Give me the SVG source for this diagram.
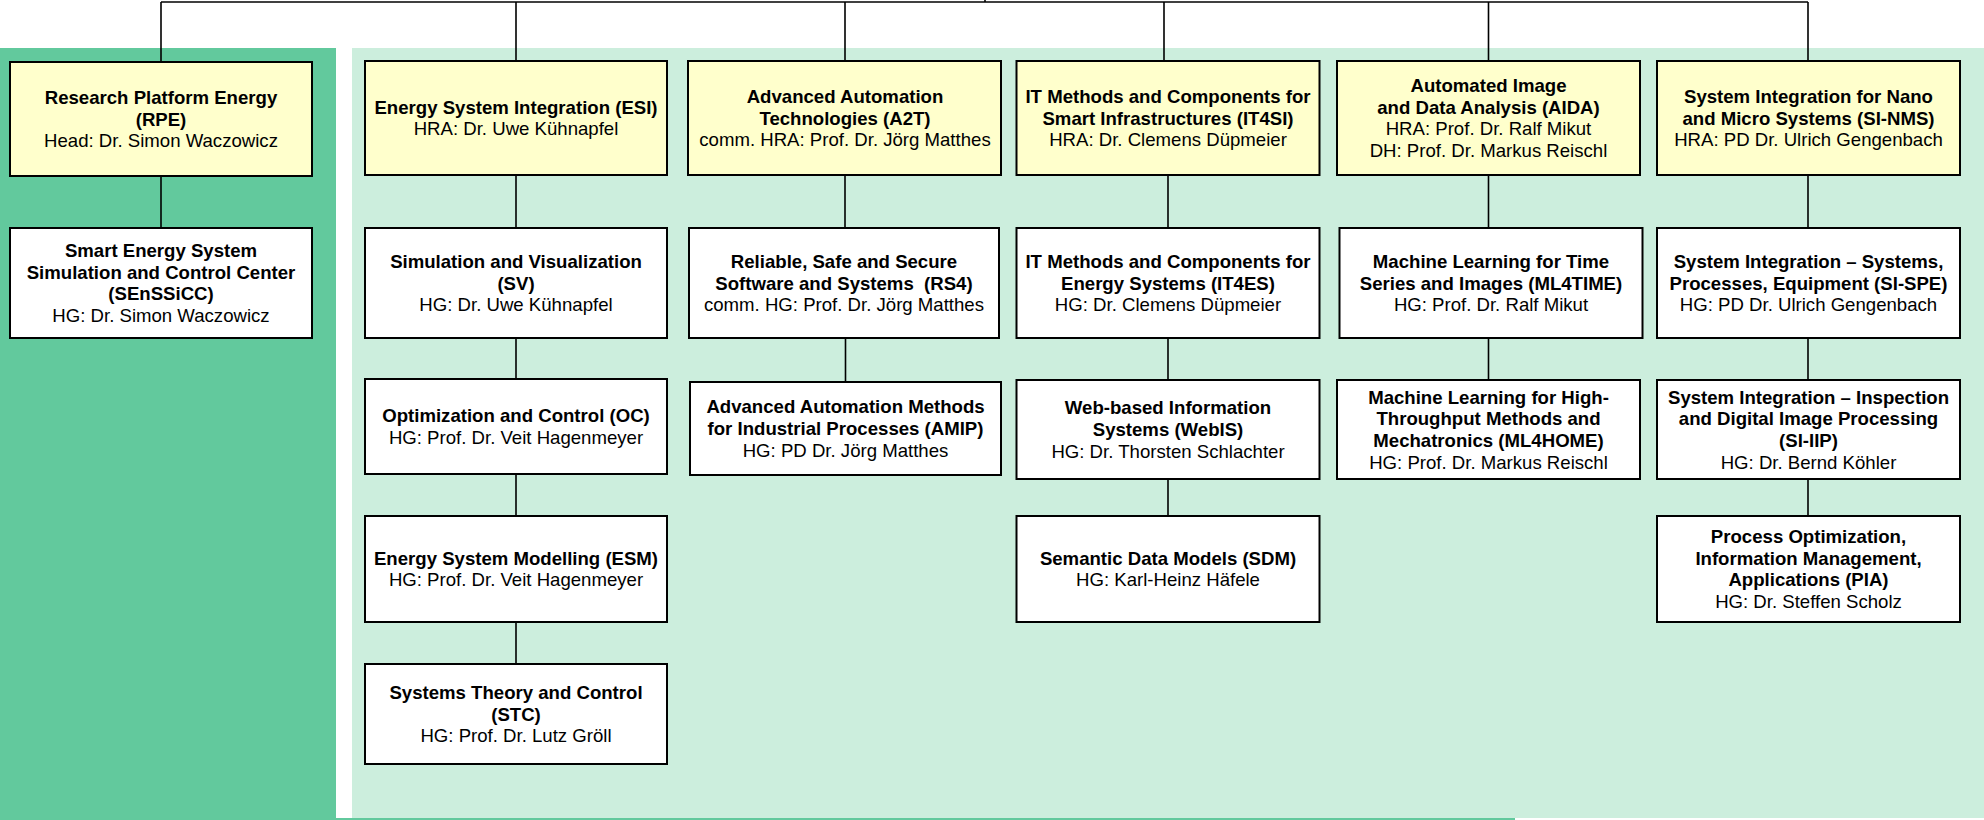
<svg xmlns="http://www.w3.org/2000/svg" width="1984" height="820" viewBox="0 0 1984 820">
<style>
  text { font-family: "Liberation Sans", Arial, sans-serif; font-size: 18.6px; fill: #000; text-anchor: middle; }
  .b { font-weight: bold; }
  .box { stroke: #000; stroke-width: 2; }
  .head { fill: #FFFFCC; }
  .unit { fill: #FFFFFF; }
  .conn { stroke: #000; stroke-width: 1.6; fill: none; }
</style>
<rect x="0" y="0" width="1984" height="820" fill="#FFFFFF"/>
<g id="backgrounds">
  <rect x="0" y="48" width="336" height="772" fill="#62C99D"/>
  <rect x="352" y="48" width="1632" height="770" fill="#CCEEDD"/>
  <rect x="336" y="818" width="1179" height="2" fill="#62C99D"/>
</g>
<g id="connectors">
  <path class="conn" d="M161,2 H1808"/>
  <path class="conn" d="M985,0 V2"/>
  <path class="conn" d="M161,2 V62 M516,2 V61 M845,2 V61 M1164,2 V61 M1488.5,2 V61 M1808,2 V61"/>
  <path class="conn" d="M161,176 V228"/>
  <path class="conn" d="M516,175 V228 M516,338 V379 M516,474 V516 M516,622 V664"/>
  <path class="conn" d="M845,175 V228 M845.5,338 V382"/>
  <path class="conn" d="M1168,175 V228 M1168,338 V380 M1168,479 V516"/>
  <path class="conn" d="M1488.5,175 V228 M1488.5,338 V380"/>
  <path class="conn" d="M1808,175 V228 M1808,338 V380 M1808,479 V516"/>
</g>
<g id="RPE">
  <rect class="box head" x="10" y="62" width="302" height="114"/>
  <text><tspan class="b" x="161" y="103.9">Research Platform Energy</tspan><tspan class="b" x="161" y="125.6">(RPE)</tspan><tspan x="161" y="147.3">Head: Dr. Simon Waczowicz</tspan></text>
</g>
<g id="SEnSSiCC">
  <rect class="box unit" x="10" y="228" width="302" height="110"/>
  <text><tspan class="b" x="161" y="257.05">Smart Energy System</tspan><tspan class="b" x="161" y="278.75">Simulation and Control Center</tspan><tspan class="b" x="161" y="300.45">(SEnSSiCC)</tspan><tspan x="161" y="322.15">HG: Dr. Simon Waczowicz</tspan></text>
</g>
<g id="ESI">
  <rect class="box head" x="365" y="61" width="302" height="114"/>
  <text><tspan class="b" x="516" y="113.75">Energy System Integration (ESI)</tspan><tspan x="516" y="135.45">HRA: Dr. Uwe Kühnapfel</tspan></text>
</g>
<g id="SV">
  <rect class="box unit" x="365" y="228" width="302" height="110"/>
  <text><tspan class="b" x="516" y="267.9">Simulation and Visualization</tspan><tspan class="b" x="516" y="289.6">(SV)</tspan><tspan x="516" y="311.3">HG: Dr. Uwe Kühnapfel</tspan></text>
</g>
<g id="OC">
  <rect class="box unit" x="365" y="379" width="302" height="95"/>
  <text><tspan class="b" x="516" y="422.25">Optimization and Control (OC)</tspan><tspan x="516" y="443.95">HG: Prof. Dr. Veit Hagenmeyer</tspan></text>
</g>
<g id="ESM">
  <rect class="box unit" x="365" y="516" width="302" height="106"/>
  <text><tspan class="b" x="516" y="564.75">Energy System Modelling (ESM)</tspan><tspan x="516" y="586.45">HG: Prof. Dr. Veit Hagenmeyer</tspan></text>
</g>
<g id="STC">
  <rect class="box unit" x="365" y="664" width="302" height="100"/>
  <text><tspan class="b" x="516" y="698.9">Systems Theory and Control</tspan><tspan class="b" x="516" y="720.6">(STC)</tspan><tspan x="516" y="742.3">HG: Prof. Dr. Lutz Gröll</tspan></text>
</g>
<g id="A2T">
  <rect class="box head" x="688" y="61" width="313" height="114"/>
  <text><tspan class="b" x="845" y="102.9">Advanced Automation</tspan><tspan class="b" x="845" y="124.6">Technologies (A2T)</tspan><tspan x="845" y="146.3">comm. HRA: Prof. Dr. Jörg Matthes</tspan></text>
</g>
<g id="RS4">
  <rect class="box unit" x="689" y="228" width="310" height="110"/>
  <text xml:space="preserve"><tspan class="b" x="844" y="267.9">Reliable, Safe and Secure</tspan><tspan class="b" x="844" y="289.6">Software and Systems  (RS4)</tspan><tspan x="844" y="311.3">comm. HG: Prof. Dr. Jörg Matthes</tspan></text>
</g>
<g id="AMIP">
  <rect class="box unit" x="690" y="382" width="311" height="93"/>
  <text><tspan class="b" x="845.5" y="413.4">Advanced Automation Methods</tspan><tspan class="b" x="845.5" y="435.1">for Industrial Processes (AMIP)</tspan><tspan x="845.5" y="456.8">HG: PD Dr. Jörg Matthes</tspan></text>
</g>
<g id="IT4SI">
  <rect class="box head" x="1016.5" y="61" width="303" height="114"/>
  <text><tspan class="b" x="1168" y="102.9">IT Methods and Components for</tspan><tspan class="b" x="1168" y="124.6">Smart Infrastructures (IT4SI)</tspan><tspan x="1168" y="146.3">HRA: Dr. Clemens Düpmeier</tspan></text>
</g>
<g id="IT4ES">
  <rect class="box unit" x="1016.5" y="228" width="303" height="110"/>
  <text><tspan class="b" x="1168" y="267.9">IT Methods and Components for</tspan><tspan class="b" x="1168" y="289.6">Energy Systems (IT4ES)</tspan><tspan x="1168" y="311.3">HG: Dr. Clemens Düpmeier</tspan></text>
</g>
<g id="WebIS">
  <rect class="box unit" x="1016.5" y="380" width="303" height="99"/>
  <text><tspan class="b" x="1168" y="414.4">Web-based Information</tspan><tspan class="b" x="1168" y="436.1">Systems (WebIS)</tspan><tspan x="1168" y="457.8">HG: Dr. Thorsten Schlachter</tspan></text>
</g>
<g id="SDM">
  <rect class="box unit" x="1016.5" y="516" width="303" height="106"/>
  <text><tspan class="b" x="1168" y="564.75">Semantic Data Models (SDM)</tspan><tspan x="1168" y="586.45">HG: Karl-Heinz Häfele</tspan></text>
</g>
<g id="AIDA">
  <rect class="box head" x="1337" y="61" width="303" height="114"/>
  <text><tspan class="b" x="1488.5" y="92.05">Automated Image</tspan><tspan class="b" x="1488.5" y="113.75">and Data Analysis (AIDA)</tspan><tspan x="1488.5" y="135.45">HRA: Prof. Dr. Ralf Mikut</tspan><tspan x="1488.5" y="157.15">DH: Prof. Dr. Markus Reischl</tspan></text>
</g>
<g id="ML4TIME">
  <rect class="box unit" x="1339.5" y="228" width="303" height="110"/>
  <text><tspan class="b" x="1491" y="267.9">Machine Learning for Time</tspan><tspan class="b" x="1491" y="289.6">Series and Images (ML4TIME)</tspan><tspan x="1491" y="311.3">HG: Prof. Dr. Ralf Mikut</tspan></text>
</g>
<g id="ML4HOME">
  <rect class="box unit" x="1337" y="380" width="303" height="99"/>
  <text><tspan class="b" x="1488.5" y="403.55">Machine Learning for High-</tspan><tspan class="b" x="1488.5" y="425.25">Throughput Methods and</tspan><tspan class="b" x="1488.5" y="446.95">Mechatronics (ML4HOME)</tspan><tspan x="1488.5" y="468.65">HG: Prof. Dr. Markus Reischl</tspan></text>
</g>
<g id="SI-NMS">
  <rect class="box head" x="1657" y="61" width="303" height="114"/>
  <text><tspan class="b" x="1808.5" y="102.9">System Integration for Nano</tspan><tspan class="b" x="1808.5" y="124.6">and Micro Systems (SI-NMS)</tspan><tspan x="1808.5" y="146.3">HRA: PD Dr. Ulrich Gengenbach</tspan></text>
</g>
<g id="SI-SPE">
  <rect class="box unit" x="1657" y="228" width="303" height="110"/>
  <text><tspan class="b" x="1808.5" y="267.9">System Integration – Systems,</tspan><tspan class="b" x="1808.5" y="289.6">Processes, Equipment (SI-SPE)</tspan><tspan x="1808.5" y="311.3">HG: PD Dr. Ulrich Gengenbach</tspan></text>
</g>
<g id="SI-IIP">
  <rect class="box unit" x="1657" y="380" width="303" height="99"/>
  <text><tspan class="b" x="1808.5" y="403.55">System Integration – Inspection</tspan><tspan class="b" x="1808.5" y="425.25">and Digital Image Processing</tspan><tspan class="b" x="1808.5" y="446.95">(SI-IIP)</tspan><tspan x="1808.5" y="468.65">HG: Dr. Bernd Köhler</tspan></text>
</g>
<g id="PIA">
  <rect class="box unit" x="1657" y="516" width="303" height="106"/>
  <text><tspan class="b" x="1808.5" y="543.05">Process Optimization,</tspan><tspan class="b" x="1808.5" y="564.75">Information Management,</tspan><tspan class="b" x="1808.5" y="586.45">Applications (PIA)</tspan><tspan x="1808.5" y="608.15">HG: Dr. Steffen Scholz</tspan></text>
</g>
</svg>
